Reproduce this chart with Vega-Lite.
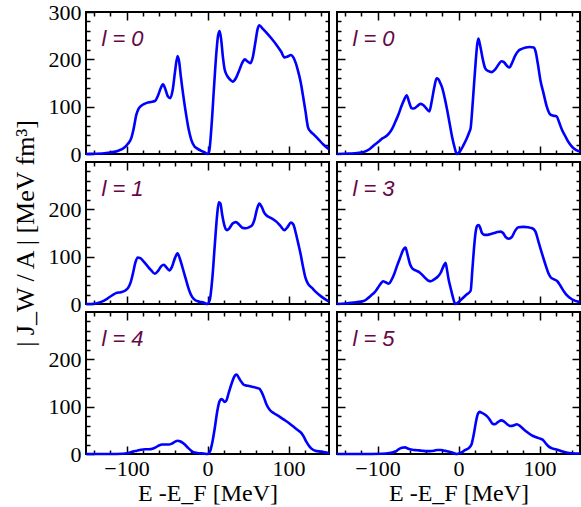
{
  "$schema": "https://vega.github.io/schema/vega-lite/v6.json",
  "padding": {"left": 11, "top": 0, "right": 0, "bottom": 0},
  "background": "white",
  "datasets": {
    "p1": [{"E":-150,"J":0},{"E":-140,"J":0.5},{"E":-130,"J":1},{"E":-120,"J":3},{"E":-110,"J":7},{"E":-103,"J":13},{"E":-98,"J":22},{"E":-94,"J":34},{"E":-91,"J":55},{"E":-88,"J":82},{"E":-85,"J":96},{"E":-80,"J":104},{"E":-75,"J":108},{"E":-70,"J":110},{"E":-65,"J":112},{"E":-61,"J":124},{"E":-58,"J":138},{"E":-55,"J":147},{"E":-52,"J":137},{"E":-49,"J":122},{"E":-46,"J":118},{"E":-43,"J":135},{"E":-40,"J":175},{"E":-37,"J":207},{"E":-35,"J":195},{"E":-33,"J":165},{"E":-30,"J":125},{"E":-26,"J":79},{"E":-23,"J":50},{"E":-20,"J":30},{"E":-16,"J":16},{"E":-13,"J":12},{"E":-7,"J":6},{"E":-3,"J":3},{"E":0,"J":0},{"E":2,"J":5},{"E":5,"J":60},{"E":8,"J":140},{"E":11,"J":215},{"E":13,"J":250},{"E":15,"J":260},{"E":17,"J":240},{"E":19,"J":205},{"E":21,"J":180},{"E":24,"J":166},{"E":28,"J":157},{"E":31,"J":153},{"E":35,"J":160},{"E":39,"J":176},{"E":43,"J":193},{"E":46,"J":200},{"E":49,"J":196},{"E":53,"J":192},{"E":56,"J":205},{"E":59,"J":235},{"E":62,"J":265},{"E":64,"J":272},{"E":68,"J":265},{"E":73,"J":256},{"E":79,"J":244},{"E":85,"J":231},{"E":91,"J":216},{"E":95,"J":204},{"E":99,"J":206},{"E":103,"J":209},{"E":106,"J":204},{"E":109,"J":192},{"E":112,"J":174},{"E":115,"J":152},{"E":118,"J":122},{"E":121,"J":90},{"E":124,"J":57},{"E":127,"J":48},{"E":132,"J":40},{"E":137,"J":31},{"E":143,"J":20},{"E":150,"J":10}],
    "p2": [{"E":-150,"J":0},{"E":-135,"J":1},{"E":-125,"J":2},{"E":-117,"J":4},{"E":-110,"J":10},{"E":-104,"J":19},{"E":-98,"J":27},{"E":-94,"J":33},{"E":-89,"J":38},{"E":-86,"J":43},{"E":-82,"J":53},{"E":-78,"J":68},{"E":-74,"J":84},{"E":-70,"J":103},{"E":-67,"J":115},{"E":-64,"J":124},{"E":-61,"J":110},{"E":-58,"J":97},{"E":-55,"J":96},{"E":-51,"J":101},{"E":-47,"J":106},{"E":-44,"J":104},{"E":-40,"J":97},{"E":-36,"J":90},{"E":-33,"J":112},{"E":-30,"J":140},{"E":-27,"J":160},{"E":-25,"J":158},{"E":-22,"J":148},{"E":-20,"J":139},{"E":-17,"J":118},{"E":-14,"J":93},{"E":-11,"J":65},{"E":-8,"J":37},{"E":-5,"J":15},{"E":-2,"J":0},{"E":2,"J":6},{"E":6,"J":18},{"E":10,"J":32},{"E":13,"J":45},{"E":15,"J":55},{"E":17,"J":95},{"E":19,"J":143},{"E":21,"J":190},{"E":23,"J":230},{"E":24.5,"J":244},{"E":26,"J":235},{"E":28,"J":218},{"E":30,"J":200},{"E":33,"J":181},{"E":37,"J":175},{"E":41,"J":173},{"E":45,"J":178},{"E":49,"J":188},{"E":53,"J":196},{"E":56,"J":194},{"E":60,"J":186},{"E":63,"J":183},{"E":66,"J":192},{"E":70,"J":208},{"E":74,"J":218},{"E":78,"J":222},{"E":83,"J":225},{"E":88,"J":226},{"E":93,"J":225},{"E":95,"J":218},{"E":98,"J":190},{"E":101,"J":157},{"E":105,"J":128},{"E":109,"J":100},{"E":113,"J":84},{"E":117,"J":81},{"E":121,"J":80},{"E":124,"J":68},{"E":128,"J":50},{"E":132,"J":37},{"E":137,"J":22},{"E":142,"J":12},{"E":150,"J":5}],
    "p3": [{"E":-150,"J":0},{"E":-140,"J":0.5},{"E":-132,"J":4},{"E":-124,"J":11},{"E":-118,"J":18},{"E":-113,"J":23},{"E":-107,"J":25},{"E":-102,"J":28},{"E":-98,"J":34},{"E":-95,"J":45},{"E":-92,"J":65},{"E":-89,"J":88},{"E":-86,"J":98},{"E":-83,"J":97},{"E":-79,"J":90},{"E":-75,"J":82},{"E":-70,"J":72},{"E":-65,"J":64},{"E":-61,"J":70},{"E":-57,"J":80},{"E":-54,"J":83},{"E":-51,"J":78},{"E":-47,"J":71},{"E":-44,"J":78},{"E":-40,"J":98},{"E":-37,"J":107},{"E":-34,"J":95},{"E":-31,"J":78},{"E":-28,"J":60},{"E":-25,"J":42},{"E":-22,"J":26},{"E":-19,"J":15},{"E":-15,"J":8},{"E":-10,"J":5},{"E":-5,"J":3},{"E":0,"J":0},{"E":3,"J":10},{"E":6,"J":55},{"E":9,"J":125},{"E":12,"J":190},{"E":14,"J":215},{"E":16,"J":212},{"E":18,"J":190},{"E":21,"J":165},{"E":24,"J":156},{"E":27,"J":160},{"E":31,"J":170},{"E":35,"J":173},{"E":39,"J":168},{"E":43,"J":161},{"E":47,"J":160},{"E":51,"J":162},{"E":55,"J":166},{"E":58,"J":178},{"E":61,"J":200},{"E":64,"J":212},{"E":67,"J":205},{"E":70,"J":193},{"E":73,"J":187},{"E":78,"J":182},{"E":85,"J":174},{"E":90,"J":165},{"E":95,"J":156},{"E":99,"J":163},{"E":103,"J":172},{"E":106,"J":168},{"E":109,"J":150},{"E":112,"J":128},{"E":115,"J":105},{"E":118,"J":78},{"E":121,"J":55},{"E":124,"J":43},{"E":129,"J":34},{"E":134,"J":25},{"E":141,"J":15},{"E":150,"J":5}],
    "p4": [{"E":-150,"J":0},{"E":-140,"J":1},{"E":-130,"J":3},{"E":-120,"J":5},{"E":-116,"J":7},{"E":-112,"J":12},{"E":-108,"J":18},{"E":-104,"J":24},{"E":-100,"J":33},{"E":-96,"J":43},{"E":-93,"J":48},{"E":-90,"J":46},{"E":-86,"J":43},{"E":-83,"J":50},{"E":-79,"J":65},{"E":-76,"J":80},{"E":-72,"J":98},{"E":-68,"J":115},{"E":-65.5,"J":119},{"E":-63,"J":105},{"E":-60,"J":85},{"E":-57,"J":75},{"E":-53,"J":71},{"E":-49,"J":68},{"E":-45,"J":62},{"E":-41,"J":55},{"E":-37,"J":49},{"E":-34,"J":48},{"E":-30,"J":52},{"E":-26,"J":57},{"E":-22,"J":66},{"E":-19,"J":78},{"E":-16,"J":87},{"E":-14,"J":70},{"E":-12,"J":50},{"E":-10,"J":36},{"E":-7,"J":15},{"E":-4,"J":0},{"E":0,"J":4},{"E":5,"J":12},{"E":10,"J":20},{"E":15,"J":28},{"E":17,"J":70},{"E":19,"J":115},{"E":21,"J":150},{"E":23,"J":165},{"E":25,"J":167},{"E":27,"J":160},{"E":29,"J":150},{"E":32,"J":146},{"E":36,"J":146},{"E":40,"J":148},{"E":44,"J":150},{"E":48,"J":152},{"E":52,"J":153},{"E":55,"J":150},{"E":58,"J":142},{"E":62,"J":138},{"E":66,"J":142},{"E":70,"J":155},{"E":74,"J":162},{"E":80,"J":163},{"E":86,"J":162},{"E":91,"J":160},{"E":95,"J":153},{"E":99,"J":130},{"E":103,"J":107},{"E":107,"J":85},{"E":111,"J":65},{"E":114,"J":56},{"E":118,"J":52},{"E":122,"J":48},{"E":126,"J":38},{"E":130,"J":27},{"E":134,"J":18},{"E":140,"J":10},{"E":150,"J":4}],
    "p5": [{"E":-150,"J":0},{"E":-120,"J":0},{"E":-105,"J":0.5},{"E":-98,"J":2},{"E":-92,"J":5},{"E":-87,"J":7},{"E":-82,"J":9},{"E":-77,"J":10},{"E":-72,"J":10},{"E":-68,"J":11},{"E":-64,"J":14},{"E":-60,"J":18},{"E":-56,"J":20},{"E":-52,"J":20},{"E":-48,"J":20},{"E":-44,"J":22},{"E":-40,"J":26},{"E":-37,"J":28},{"E":-34,"J":27},{"E":-31,"J":24},{"E":-28,"J":20},{"E":-24,"J":13},{"E":-20,"J":7},{"E":-16,"J":3},{"E":-10,"J":1.5},{"E":-5,"J":1},{"E":0,"J":0},{"E":3,"J":5},{"E":6,"J":25},{"E":9,"J":55},{"E":12,"J":90},{"E":15,"J":112},{"E":17,"J":116},{"E":19,"J":114},{"E":21,"J":110},{"E":23,"J":112},{"E":26,"J":128},{"E":30,"J":150},{"E":34,"J":166},{"E":36,"J":168},{"E":39,"J":160},{"E":42,"J":152},{"E":45,"J":146},{"E":50,"J":144},{"E":55,"J":142},{"E":60,"J":140},{"E":64,"J":138},{"E":67,"J":130},{"E":70,"J":118},{"E":73,"J":104},{"E":77,"J":93},{"E":82,"J":86},{"E":88,"J":80},{"E":94,"J":73},{"E":100,"J":66},{"E":106,"J":58},{"E":111,"J":51},{"E":116,"J":44},{"E":119,"J":36},{"E":122,"J":26},{"E":125,"J":18},{"E":128,"J":12},{"E":133,"J":7},{"E":140,"J":5},{"E":150,"J":2}],
    "p6": [{"E":-150,"J":0},{"E":-120,"J":0},{"E":-95,"J":0.5},{"E":-85,"J":2},{"E":-78,"J":5},{"E":-74,"J":10},{"E":-70,"J":13},{"E":-66,"J":14},{"E":-62,"J":11},{"E":-57,"J":9},{"E":-51,"J":8},{"E":-45,"J":7},{"E":-40,"J":6},{"E":-35,"J":6},{"E":-30,"J":7},{"E":-26,"J":8.5},{"E":-22,"J":8.5},{"E":-18,"J":7},{"E":-14,"J":6},{"E":-10,"J":4},{"E":-6,"J":2},{"E":-2,"J":0},{"E":3,"J":3},{"E":8,"J":8},{"E":13,"J":13},{"E":16,"J":20},{"E":19,"J":43},{"E":22,"J":72},{"E":24,"J":85},{"E":26,"J":89},{"E":29,"J":87},{"E":32,"J":84},{"E":35,"J":80},{"E":38,"J":74},{"E":42,"J":64},{"E":45,"J":63},{"E":49,"J":68},{"E":53,"J":71},{"E":56,"J":69},{"E":60,"J":63},{"E":64,"J":59},{"E":68,"J":60},{"E":72,"J":63},{"E":76,"J":59},{"E":80,"J":53},{"E":85,"J":46},{"E":90,"J":40},{"E":95,"J":36},{"E":100,"J":33},{"E":104,"J":30},{"E":108,"J":22},{"E":112,"J":15},{"E":117,"J":11},{"E":122,"J":9},{"E":127,"J":6},{"E":133,"J":3},{"E":140,"J":1.5},{"E":150,"J":1}],
    "labels": [{"panel":"p1","label":"l = 0"},{"panel":"p2","label":"l = 0"},{"panel":"p3","label":"l = 1"},{"panel":"p4","label":"l = 3"},{"panel":"p5","label":"l = 4"},{"panel":"p6","label":"l = 5"}]
  },
  "columns": 2,
  "bounds": "flush",
  "spacing": 8,
  "concat": [
    {
      "width": 243, "height": 142,
      "layer": [
        {"data": {"name": "p1"}, "mark": {"type": "line", "color": "#0000ff", "strokeWidth": 2.6, "interpolate": "monotone"},
         "encoding": {
           "x": {"field": "E", "type": "quantitative", "scale": {"domain": [-150, 150], "nice": false, "zero": false}, "axis": {"orient": "bottom", "values": [-100, 0, 100], "tickSize": -8, "labels": false, "title": null}},
           "y": {"field": "J", "type": "quantitative", "scale": {"domain": [0, 300], "nice": false}, "axis": {"orient": "left", "values": [0, 100, 200, 300], "tickSize": -8, "labelPadding": 13, "title": null}}
         }},
        {"data": {"name": "p1"}, "mark": {"type": "line", "strokeOpacity": 0},
         "encoding": {
           "x": {"field": "E", "type": "quantitative", "axis": {"orient": "bottom", "values": [-140,-120,-80,-60,-40,-20,20,40,60,80,120,140], "tickSize": -4, "labels": false, "title": null}},
           "y": {"field": "J", "type": "quantitative", "axis": {"orient": "left", "values": [20,40,60,80,120,140,160,180,220,240,260,280], "tickSize": -4, "labels": false, "title": null}}
         }},
        {"data": {"name": "p1"}, "mark": {"type": "line", "strokeOpacity": 0},
         "encoding": {
           "x": {"field": "E", "type": "quantitative", "axis": {"orient": "top", "values": [-100, 0, 100], "tickSize": -8, "labels": false, "title": null}},
           "y": {"field": "J", "type": "quantitative", "axis": {"orient": "right", "values": [100, 200], "tickSize": -8, "labels": false, "title": null}}
         }},
        {"data": {"name": "p1"}, "mark": {"type": "line", "strokeOpacity": 0},
         "encoding": {
           "x": {"field": "E", "type": "quantitative", "axis": {"orient": "top", "values": [-140,-120,-80,-60,-40,-20,20,40,60,80,120,140], "tickSize": -4, "labels": false, "title": null}},
           "y": {"field": "J", "type": "quantitative", "axis": {"orient": "right", "values": [20,40,60,80,120,140,160,180,220,240,260,280], "tickSize": -4, "labels": false, "title": null}}
         }},
        {"data": {"name": "labels"}, "transform": [{"filter": "datum.panel === 'p1'"}],
         "mark": {"type": "text", "align": "left", "baseline": "alphabetic", "font": "Liberation Sans", "fontStyle": "italic", "fontSize": 22, "color": "#670748"},
         "encoding": {"text": {"field": "label"}, "x": {"datum": -131, "type": "quantitative", "axis": null}, "y": {"datum": 229, "type": "quantitative", "axis": null}}}
      ],
      "resolve": {"axis": {"x": "independent", "y": "independent"}}
    },
    {
      "width": 243, "height": 142,
      "layer": [
        {"data": {"name": "p2"}, "mark": {"type": "line", "color": "#0000ff", "strokeWidth": 2.6, "interpolate": "monotone"},
         "encoding": {
           "x": {"field": "E", "type": "quantitative", "scale": {"domain": [-150, 150], "nice": false, "zero": false}, "axis": {"orient": "bottom", "values": [-100, 0, 100], "tickSize": -8, "labels": false, "title": null}},
           "y": {"field": "J", "type": "quantitative", "scale": {"domain": [0, 300], "nice": false}, "axis": {"orient": "left", "values": [100, 200], "tickSize": -8, "labels": false, "title": null}}
         }},
        {"data": {"name": "p2"}, "mark": {"type": "line", "strokeOpacity": 0},
         "encoding": {
           "x": {"field": "E", "type": "quantitative", "axis": {"orient": "bottom", "values": [-140,-120,-80,-60,-40,-20,20,40,60,80,120,140], "tickSize": -4, "labels": false, "title": null}},
           "y": {"field": "J", "type": "quantitative", "axis": {"orient": "left", "values": [20,40,60,80,120,140,160,180,220,240,260,280], "tickSize": -4, "labels": false, "title": null}}
         }},
        {"data": {"name": "p2"}, "mark": {"type": "line", "strokeOpacity": 0},
         "encoding": {
           "x": {"field": "E", "type": "quantitative", "axis": {"orient": "top", "values": [-100, 0, 100], "tickSize": -8, "labels": false, "title": null}},
           "y": {"field": "J", "type": "quantitative", "axis": {"orient": "right", "values": [100, 200], "tickSize": -8, "labels": false, "title": null}}
         }},
        {"data": {"name": "p2"}, "mark": {"type": "line", "strokeOpacity": 0},
         "encoding": {
           "x": {"field": "E", "type": "quantitative", "axis": {"orient": "top", "values": [-140,-120,-80,-60,-40,-20,20,40,60,80,120,140], "tickSize": -4, "labels": false, "title": null}},
           "y": {"field": "J", "type": "quantitative", "axis": {"orient": "right", "values": [20,40,60,80,120,140,160,180,220,240,260,280], "tickSize": -4, "labels": false, "title": null}}
         }},
        {"data": {"name": "labels"}, "transform": [{"filter": "datum.panel === 'p2'"}],
         "mark": {"type": "text", "align": "left", "baseline": "alphabetic", "font": "Liberation Sans", "fontStyle": "italic", "fontSize": 22, "color": "#670748"},
         "encoding": {"text": {"field": "label"}, "x": {"datum": -131, "type": "quantitative", "axis": null}, "y": {"datum": 229, "type": "quantitative", "axis": null}}}
      ],
      "resolve": {"axis": {"x": "independent", "y": "independent"}}
    },
    {
      "width": 243, "height": 142,
      "layer": [
        {"data": {"name": "p3"}, "mark": {"type": "line", "color": "#0000ff", "strokeWidth": 2.6, "interpolate": "monotone"},
         "encoding": {
           "x": {"field": "E", "type": "quantitative", "scale": {"domain": [-150, 150], "nice": false, "zero": false}, "axis": {"orient": "bottom", "values": [-100, 0, 100], "tickSize": -8, "labels": false, "title": null}},
           "y": {"field": "J", "type": "quantitative", "scale": {"domain": [0, 300], "nice": false}, "axis": {"orient": "left", "values": [0, 100, 200], "tickSize": -8, "labelPadding": 13, "title": "| J_W / A |  [MeV fm³]", "titlePadding": 10, "titleFontSize": 26}}
         }},
        {"data": {"name": "p3"}, "mark": {"type": "line", "strokeOpacity": 0},
         "encoding": {
           "x": {"field": "E", "type": "quantitative", "axis": {"orient": "bottom", "values": [-140,-120,-80,-60,-40,-20,20,40,60,80,120,140], "tickSize": -4, "labels": false, "title": null}},
           "y": {"field": "J", "type": "quantitative", "axis": {"orient": "left", "values": [20,40,60,80,120,140,160,180,220,240,260,280], "tickSize": -4, "labels": false, "title": null}}
         }},
        {"data": {"name": "p3"}, "mark": {"type": "line", "strokeOpacity": 0},
         "encoding": {
           "x": {"field": "E", "type": "quantitative", "axis": {"orient": "top", "values": [-100, 0, 100], "tickSize": -8, "labels": false, "title": null}},
           "y": {"field": "J", "type": "quantitative", "axis": {"orient": "right", "values": [100, 200], "tickSize": -8, "labels": false, "title": null}}
         }},
        {"data": {"name": "p3"}, "mark": {"type": "line", "strokeOpacity": 0},
         "encoding": {
           "x": {"field": "E", "type": "quantitative", "axis": {"orient": "top", "values": [-140,-120,-80,-60,-40,-20,20,40,60,80,120,140], "tickSize": -4, "labels": false, "title": null}},
           "y": {"field": "J", "type": "quantitative", "axis": {"orient": "right", "values": [20,40,60,80,120,140,160,180,220,240,260,280], "tickSize": -4, "labels": false, "title": null}}
         }},
        {"data": {"name": "labels"}, "transform": [{"filter": "datum.panel === 'p3'"}],
         "mark": {"type": "text", "align": "left", "baseline": "alphabetic", "font": "Liberation Sans", "fontStyle": "italic", "fontSize": 22, "color": "#670748"},
         "encoding": {"text": {"field": "label"}, "x": {"datum": -131, "type": "quantitative", "axis": null}, "y": {"datum": 229, "type": "quantitative", "axis": null}}}
      ],
      "resolve": {"axis": {"x": "independent", "y": "independent"}}
    },
    {
      "width": 243, "height": 142,
      "layer": [
        {"data": {"name": "p4"}, "mark": {"type": "line", "color": "#0000ff", "strokeWidth": 2.6, "interpolate": "monotone"},
         "encoding": {
           "x": {"field": "E", "type": "quantitative", "scale": {"domain": [-150, 150], "nice": false, "zero": false}, "axis": {"orient": "bottom", "values": [-100, 0, 100], "tickSize": -8, "labels": false, "title": null}},
           "y": {"field": "J", "type": "quantitative", "scale": {"domain": [0, 300], "nice": false}, "axis": {"orient": "left", "values": [100, 200], "tickSize": -8, "labels": false, "title": null}}
         }},
        {"data": {"name": "p4"}, "mark": {"type": "line", "strokeOpacity": 0},
         "encoding": {
           "x": {"field": "E", "type": "quantitative", "axis": {"orient": "bottom", "values": [-140,-120,-80,-60,-40,-20,20,40,60,80,120,140], "tickSize": -4, "labels": false, "title": null}},
           "y": {"field": "J", "type": "quantitative", "axis": {"orient": "left", "values": [20,40,60,80,120,140,160,180,220,240,260,280], "tickSize": -4, "labels": false, "title": null}}
         }},
        {"data": {"name": "p4"}, "mark": {"type": "line", "strokeOpacity": 0},
         "encoding": {
           "x": {"field": "E", "type": "quantitative", "axis": {"orient": "top", "values": [-100, 0, 100], "tickSize": -8, "labels": false, "title": null}},
           "y": {"field": "J", "type": "quantitative", "axis": {"orient": "right", "values": [100, 200], "tickSize": -8, "labels": false, "title": null}}
         }},
        {"data": {"name": "p4"}, "mark": {"type": "line", "strokeOpacity": 0},
         "encoding": {
           "x": {"field": "E", "type": "quantitative", "axis": {"orient": "top", "values": [-140,-120,-80,-60,-40,-20,20,40,60,80,120,140], "tickSize": -4, "labels": false, "title": null}},
           "y": {"field": "J", "type": "quantitative", "axis": {"orient": "right", "values": [20,40,60,80,120,140,160,180,220,240,260,280], "tickSize": -4, "labels": false, "title": null}}
         }},
        {"data": {"name": "labels"}, "transform": [{"filter": "datum.panel === 'p4'"}],
         "mark": {"type": "text", "align": "left", "baseline": "alphabetic", "font": "Liberation Sans", "fontStyle": "italic", "fontSize": 22, "color": "#670748"},
         "encoding": {"text": {"field": "label"}, "x": {"datum": -131, "type": "quantitative", "axis": null}, "y": {"datum": 229, "type": "quantitative", "axis": null}}}
      ],
      "resolve": {"axis": {"x": "independent", "y": "independent"}}
    },
    {
      "width": 243, "height": 142,
      "layer": [
        {"data": {"name": "p5"}, "mark": {"type": "line", "color": "#0000ff", "strokeWidth": 2.6, "interpolate": "monotone"},
         "encoding": {
           "x": {"field": "E", "type": "quantitative", "scale": {"domain": [-150, 150], "nice": false, "zero": false}, "axis": {"orient": "bottom", "values": [-100, 0, 100], "tickSize": -8, "labelPadding": 12, "title": "E -E_F [MeV]", "titlePadding": 2}},
           "y": {"field": "J", "type": "quantitative", "scale": {"domain": [0, 300], "nice": false}, "axis": {"orient": "left", "values": [0, 100, 200], "tickSize": -8, "labelPadding": 13, "title": null}}
         }},
        {"data": {"name": "p5"}, "mark": {"type": "line", "strokeOpacity": 0},
         "encoding": {
           "x": {"field": "E", "type": "quantitative", "axis": {"orient": "bottom", "values": [-140,-120,-80,-60,-40,-20,20,40,60,80,120,140], "tickSize": -4, "labels": false, "title": null}},
           "y": {"field": "J", "type": "quantitative", "axis": {"orient": "left", "values": [20,40,60,80,120,140,160,180,220,240,260,280], "tickSize": -4, "labels": false, "title": null}}
         }},
        {"data": {"name": "p5"}, "mark": {"type": "line", "strokeOpacity": 0},
         "encoding": {
           "x": {"field": "E", "type": "quantitative", "axis": {"orient": "top", "values": [-100, 0, 100], "tickSize": -8, "labels": false, "title": null}},
           "y": {"field": "J", "type": "quantitative", "axis": {"orient": "right", "values": [100, 200], "tickSize": -8, "labels": false, "title": null}}
         }},
        {"data": {"name": "p5"}, "mark": {"type": "line", "strokeOpacity": 0},
         "encoding": {
           "x": {"field": "E", "type": "quantitative", "axis": {"orient": "top", "values": [-140,-120,-80,-60,-40,-20,20,40,60,80,120,140], "tickSize": -4, "labels": false, "title": null}},
           "y": {"field": "J", "type": "quantitative", "axis": {"orient": "right", "values": [20,40,60,80,120,140,160,180,220,240,260,280], "tickSize": -4, "labels": false, "title": null}}
         }},
        {"data": {"name": "labels"}, "transform": [{"filter": "datum.panel === 'p5'"}],
         "mark": {"type": "text", "align": "left", "baseline": "alphabetic", "font": "Liberation Sans", "fontStyle": "italic", "fontSize": 22, "color": "#670748"},
         "encoding": {"text": {"field": "label"}, "x": {"datum": -131, "type": "quantitative", "axis": null}, "y": {"datum": 229, "type": "quantitative", "axis": null}}}
      ],
      "resolve": {"axis": {"x": "independent", "y": "independent"}}
    },
    {
      "width": 243, "height": 142,
      "layer": [
        {"data": {"name": "p6"}, "mark": {"type": "line", "color": "#0000ff", "strokeWidth": 2.6, "interpolate": "monotone"},
         "encoding": {
           "x": {"field": "E", "type": "quantitative", "scale": {"domain": [-150, 150], "nice": false, "zero": false}, "axis": {"orient": "bottom", "values": [-100, 0, 100], "tickSize": -8, "labelPadding": 12, "title": "E -E_F [MeV]", "titlePadding": 2}},
           "y": {"field": "J", "type": "quantitative", "scale": {"domain": [0, 300], "nice": false}, "axis": {"orient": "left", "values": [100, 200], "tickSize": -8, "labels": false, "title": null}}
         }},
        {"data": {"name": "p6"}, "mark": {"type": "line", "strokeOpacity": 0},
         "encoding": {
           "x": {"field": "E", "type": "quantitative", "axis": {"orient": "bottom", "values": [-140,-120,-80,-60,-40,-20,20,40,60,80,120,140], "tickSize": -4, "labels": false, "title": null}},
           "y": {"field": "J", "type": "quantitative", "axis": {"orient": "left", "values": [20,40,60,80,120,140,160,180,220,240,260,280], "tickSize": -4, "labels": false, "title": null}}
         }},
        {"data": {"name": "p6"}, "mark": {"type": "line", "strokeOpacity": 0},
         "encoding": {
           "x": {"field": "E", "type": "quantitative", "axis": {"orient": "top", "values": [-100, 0, 100], "tickSize": -8, "labels": false, "title": null}},
           "y": {"field": "J", "type": "quantitative", "axis": {"orient": "right", "values": [100, 200], "tickSize": -8, "labels": false, "title": null}}
         }},
        {"data": {"name": "p6"}, "mark": {"type": "line", "strokeOpacity": 0},
         "encoding": {
           "x": {"field": "E", "type": "quantitative", "axis": {"orient": "top", "values": [-140,-120,-80,-60,-40,-20,20,40,60,80,120,140], "tickSize": -4, "labels": false, "title": null}},
           "y": {"field": "J", "type": "quantitative", "axis": {"orient": "right", "values": [20,40,60,80,120,140,160,180,220,240,260,280], "tickSize": -4, "labels": false, "title": null}}
         }},
        {"data": {"name": "labels"}, "transform": [{"filter": "datum.panel === 'p6'"}],
         "mark": {"type": "text", "align": "left", "baseline": "alphabetic", "font": "Liberation Sans", "fontStyle": "italic", "fontSize": 22, "color": "#670748"},
         "encoding": {"text": {"field": "label"}, "x": {"datum": -131, "type": "quantitative", "axis": null}, "y": {"datum": 229, "type": "quantitative", "axis": null}}}
      ],
      "resolve": {"axis": {"x": "independent", "y": "independent"}}
    }
  ],
  "config": {
    "view": {"stroke": "#000000", "strokeWidth": 2},
    "axis": {"domain": false, "grid": false, "ticks": true, "tickColor": "#000000", "tickWidth": 1.5, "labelFont": "Liberation Serif", "labelFontSize": 22, "labelColor": "#000000", "titleFont": "Liberation Serif", "titleFontSize": 24, "titleFontWeight": "normal", "titleColor": "#000000", "labelOverlap": false, "labelFlush": false, "labelBound": false}
  }
}
